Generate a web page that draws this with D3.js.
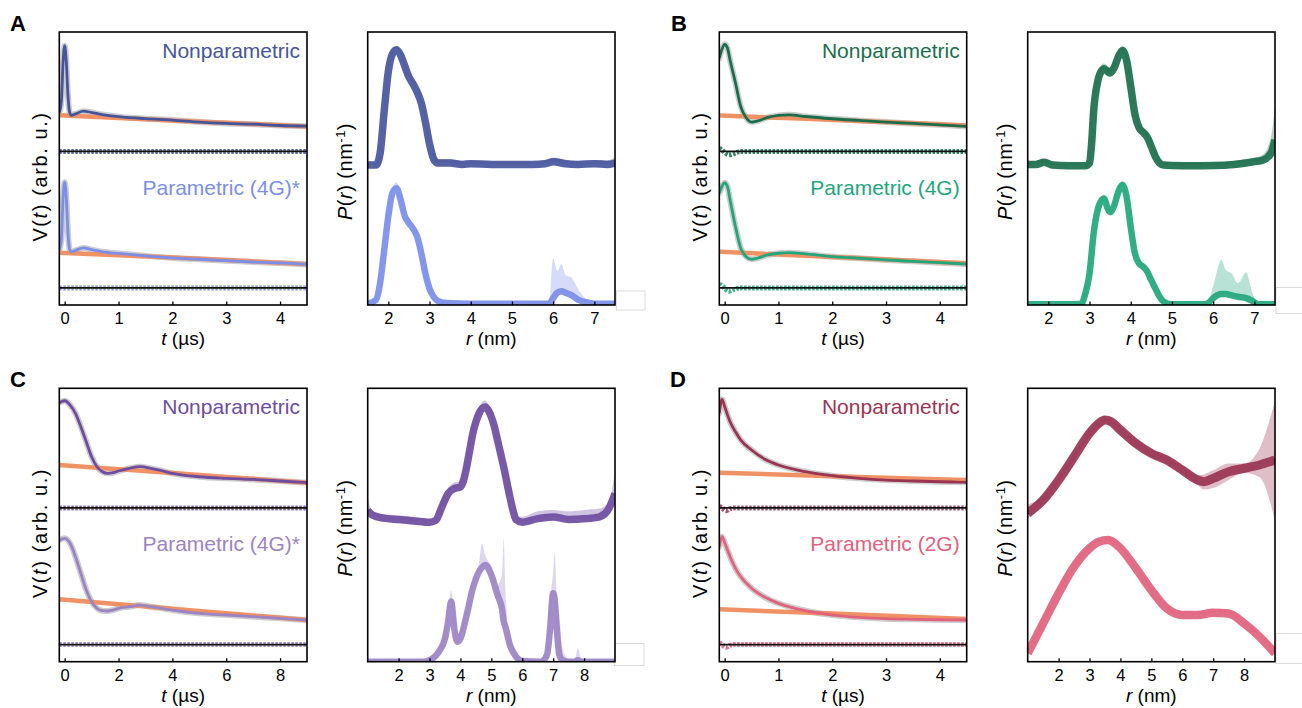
<!DOCTYPE html>
<html>
<head>
<meta charset="utf-8">
<script src="https://cdn.jsdelivr.net/npm/d3@7"></script>
<style>
  body { margin: 0; background: #fff; }
  svg { display: block; font-family: "Liberation Sans", Arial, Helvetica, sans-serif; }
</style>
</head>
<body>
<svg id="fig" width="1302" height="708"></svg>
<script>
// ---------------- tick labels ----------------
const tTicksShort = [0, 1, 2, 3, 4];
const tTicksLong = [0, 2, 4, 6, 8];
const rTicksAB = [2, 3, 4, 5, 6, 7];
const rTicksCD = [2, 3, 4, 5, 6, 7, 8];

// ---------------- series labels ----------------
const labelsA = ["Nonparametric", "Parametric (4G)*"];
const labelsB = ["Nonparametric", "Parametric (4G)"];
const labelsC = ["Nonparametric", "Parametric (4G)*"];
const labelsD = ["Nonparametric", "Parametric (2G)"];
const panelLetters = ["A", "B", "C", "D"];

// ---------------- V(t) traces (arb. u., relative to each residual baseline) ----------------
// A
const tA = [-0.1, -0.06, -0.03, 0, 0.03, 0.06, 0.09, 0.12, 0.2, 0.35, 0.5, 0.7, 1.0, 1.5, 2.0, 2.5, 3.0, 3.5, 4.0, 4.5];
const fitA_np = [0.57, 0.75, 1.31, 1.55, 1.31, 0.83, 0.58, 0.53, 0.55, 0.59, 0.57, 0.54, 0.51, 0.48, 0.46, 0.43, 0.41, 0.40, 0.38, 0.37];
const fitA_par = [0.556, 0.73, 1.32, 1.55, 1.32, 0.82, 0.57, 0.53, 0.55, 0.586, 0.56, 0.53, 0.505, 0.47, 0.44, 0.42, 0.40, 0.38, 0.366, 0.344];
const tBgA = [-0.1, 1, 2, 3, 4.5];
const bgA_np = [0.53, 0.49, 0.455, 0.42, 0.366];
const bgA_par = [0.517, 0.48, 0.445, 0.41, 0.347];
const tResA = [-0.1, 4.5];
const resA_np = [0, 0];
const resA_par = [0, 0];

// B
const tB = [-0.1, -0.05, 0, 0.05, 0.1, 0.2, 0.3, 0.4, 0.5, 0.6, 0.8, 1.0, 1.2, 1.5, 2, 2.5, 3, 3.5, 4, 4.5];
const fitB_np = [1.367, 1.50, 1.57, 1.52, 1.34, 1.006, 0.654, 0.493, 0.43, 0.445, 0.498, 0.527, 0.537, 0.512, 0.479, 0.454, 0.43, 0.41, 0.39, 0.366];
const fitB_par = [1.39, 1.49, 1.54, 1.49, 1.29, 0.90, 0.58, 0.458, 0.42, 0.435, 0.483, 0.508, 0.517, 0.498, 0.458, 0.435, 0.41, 0.39, 0.37, 0.35];
const tBgB = [-0.1, 1.5, 3, 4.5];
const bgB_np = [0.527, 0.478, 0.43, 0.38];
const bgB_par = [0.53, 0.473, 0.417, 0.36];
const tResB = [-0.1, -0.02, 0.08, 0.18, 0.3, 4.5];
const resB_np = [0.05, 0.0, -0.05, -0.03, 0, 0];
const resB_par = [0.06, 0.01, -0.05, -0.02, 0, 0];

// C
const tC = [-0.2, 0, 0.2, 0.4, 0.6, 0.8, 1.0, 1.2, 1.4, 1.6, 1.8, 2.0, 2.4, 2.8, 3.2, 3.6, 4, 5, 6, 7, 8, 9];
const fitC_np = [1.54, 1.568, 1.505, 1.384, 1.188, 0.969, 0.749, 0.603, 0.53, 0.506, 0.515, 0.54, 0.579, 0.603, 0.579, 0.544, 0.506, 0.456, 0.433, 0.418, 0.394, 0.369];
const fitC_par = [1.53, 1.555, 1.482, 1.286, 1.043, 0.799, 0.628, 0.531, 0.496, 0.492, 0.506, 0.531, 0.555, 0.579, 0.555, 0.531, 0.506, 0.458, 0.433, 0.409, 0.384, 0.36];
const tBgC = [-0.2, 2, 4, 6, 9];
const bgC_np = [0.628, 0.566, 0.51, 0.453, 0.369];
const bgC_par = [0.663, 0.591, 0.525, 0.46, 0.36];
const tResC = [-0.2, 9];
const resC_np = [0, 0];
const resC_par = [0, 0];

// D
const tD = [-0.1, -0.05, 0, 0.1, 0.2, 0.3, 0.5, 0.75, 1, 1.5, 2, 2.5, 3, 3.5, 4, 4.5];
const fitD_np = [1.388, 1.589, 1.48, 1.261, 1.115, 0.993, 0.847, 0.711, 0.628, 0.53, 0.471, 0.433, 0.408, 0.394, 0.383, 0.375];
const fitD_par = [1.432, 1.579, 1.491, 1.286, 1.116, 0.993, 0.824, 0.692, 0.604, 0.496, 0.433, 0.399, 0.379, 0.37, 0.364, 0.36];
const tBgD = [-0.1, 2, 4.5];
const bgD_np = [0.515, 0.464, 0.408];
const bgD_par = [0.516, 0.455, 0.375];
const tResD = [-0.1, -0.05, 0.03, 0.1, 0.2, 4.5];
const resD_np = [0.03, 0, -0.04, -0.01, 0, 0];
const resD_par = [0.03, 0, -0.04, -0.01, 0, 0];

// ---------------- P(r) distributions (nm^-1, arb. scaling) ----------------
// A
const rA_np = [1.5, 1.7, 1.8, 1.9, 2.0, 2.1, 2.2, 2.3, 2.4, 2.5, 2.6, 2.7, 2.8, 2.9, 3.0, 3.1, 3.2, 3.5, 3.8, 4.0, 4.5, 5.0, 5.5, 5.8, 6.0, 6.3, 6.6, 7.0, 7.3, 7.5];
const pA_np = [0.015, 0.015, 0.10, 0.41, 0.70, 0.83, 0.86, 0.82, 0.74, 0.66, 0.61, 0.55, 0.47, 0.33, 0.17, 0.06, 0.03, 0.03, 0.02, 0.025, 0.02, 0.02, 0.02, 0.025, 0.04, 0.025, 0.02, 0.025, 0.02, 0.03];
const hiA_np = [0.03, 0.03, 0.14, 0.45, 0.74, 0.86, 0.89, 0.85, 0.77, 0.69, 0.64, 0.58, 0.50, 0.37, 0.21, 0.09, 0.06, 0.06, 0.04, 0.045, 0.04, 0.04, 0.04, 0.045, 0.07, 0.05, 0.04, 0.05, 0.05, 0.07];
const rA_par = [1.5, 1.7, 1.8, 1.9, 2.0, 2.1, 2.2, 2.3, 2.4, 2.5, 2.6, 2.7, 2.8, 2.9, 3.0, 3.1, 3.2, 3.4, 4.0, 5.0, 5.9, 6.0, 6.1, 6.2, 6.3, 6.45, 6.6, 6.8, 7.0, 7.5];
const pA_par = [0.01, 0.037, 0.16, 0.40, 0.65, 0.82, 0.855, 0.77, 0.65, 0.60, 0.56, 0.50, 0.38, 0.23, 0.12, 0.06, 0.03, 0.015, 0.01, 0.01, 0.01, 0.05, 0.09, 0.10, 0.09, 0.07, 0.04, 0.02, 0.01, 0.01];
const hiA_par = [0.02, 0.05, 0.19, 0.44, 0.69, 0.86, 0.90, 0.82, 0.69, 0.64, 0.60, 0.54, 0.42, 0.27, 0.15, 0.08, 0.04, 0.02, 0.015, 0.015, 0.03, 0.34, 0.25, 0.30, 0.22, 0.20, 0.12, 0.04, 0.015, 0.015];

// B
const rB_np = [1.5, 1.7, 1.9, 2.1, 2.5, 2.9, 3.0, 3.05, 3.1, 3.2, 3.3, 3.35, 3.4, 3.5, 3.6, 3.7, 3.8, 3.9, 4.0, 4.1, 4.2, 4.3, 4.4, 4.5, 4.6, 4.7, 4.8, 5.0, 5.5, 6.0, 6.5, 6.8, 7.0, 7.2, 7.4, 7.5];
const pB_np = [0.02, 0.02, 0.035, 0.015, 0.01, 0.01, 0.03, 0.17, 0.41, 0.63, 0.71, 0.72, 0.71, 0.69, 0.73, 0.81, 0.855, 0.78, 0.59, 0.39, 0.29, 0.255, 0.22, 0.15, 0.075, 0.03, 0.015, 0.012, 0.01, 0.012, 0.02, 0.03, 0.04, 0.05, 0.10, 0.20];
const hiB_np = [0.05, 0.04, 0.06, 0.03, 0.02, 0.02, 0.06, 0.21, 0.45, 0.67, 0.75, 0.76, 0.75, 0.73, 0.77, 0.85, 0.89, 0.82, 0.63, 0.43, 0.33, 0.29, 0.26, 0.19, 0.11, 0.06, 0.04, 0.035, 0.03, 0.035, 0.045, 0.06, 0.07, 0.09, 0.22, 0.45];
const rB_par = [1.5, 2.5, 2.8, 2.9, 3.0, 3.1, 3.2, 3.3, 3.35, 3.45, 3.5, 3.6, 3.7, 3.8, 3.9, 4.0, 4.1, 4.2, 4.3, 4.4, 4.5, 4.6, 4.7, 4.8, 5.0, 5.8, 5.9, 6.0, 6.2, 6.3, 6.45, 6.6, 6.8, 6.95, 7.1, 7.5];
const pB_par = [0.005, 0.005, 0.01, 0.086, 0.23, 0.525, 0.70, 0.77, 0.78, 0.70, 0.68, 0.73, 0.83, 0.88, 0.79, 0.57, 0.38, 0.305, 0.28, 0.245, 0.18, 0.12, 0.06, 0.025, 0.005, 0.005, 0.02, 0.05, 0.08, 0.08, 0.07, 0.06, 0.05, 0.03, 0.005, 0.005];
const hiB_par = [0.01, 0.01, 0.02, 0.11, 0.26, 0.56, 0.73, 0.80, 0.81, 0.73, 0.71, 0.76, 0.86, 0.91, 0.82, 0.60, 0.41, 0.335, 0.31, 0.275, 0.21, 0.15, 0.085, 0.045, 0.01, 0.01, 0.04, 0.14, 0.33, 0.26, 0.23, 0.16, 0.24, 0.09, 0.01, 0.01];

// C
const rC_np = [1.0, 1.1, 1.3, 1.5, 2.0, 2.5, 3.0, 3.2, 3.4, 3.6, 3.8, 4.0, 4.1, 4.2, 4.3, 4.4, 4.5, 4.6, 4.7, 4.8, 4.9, 5.0, 5.1, 5.2, 5.3, 5.4, 5.5, 5.6, 5.7, 5.8, 6.0, 6.5, 7.0, 7.5, 8.0, 8.5, 8.8, 9.0];
const pC_np = [0.10, 0.07, 0.05, 0.04, 0.03, 0.02, 0.01, 0.024, 0.122, 0.22, 0.256, 0.268, 0.317, 0.414, 0.537, 0.659, 0.744, 0.805, 0.842, 0.854, 0.829, 0.78, 0.707, 0.61, 0.512, 0.414, 0.305, 0.195, 0.097, 0.029, 0.01, 0.037, 0.049, 0.03, 0.035, 0.05, 0.11, 0.22];
const hiC_np = [0.20, 0.11, 0.08, 0.07, 0.06, 0.05, 0.03, 0.05, 0.16, 0.26, 0.30, 0.31, 0.36, 0.46, 0.58, 0.70, 0.79, 0.85, 0.89, 0.90, 0.875, 0.825, 0.75, 0.655, 0.555, 0.455, 0.345, 0.235, 0.135, 0.06, 0.05, 0.09, 0.10, 0.09, 0.10, 0.11, 0.16, 0.38];
const rC_par = [1.0, 2.8, 3.0, 3.3, 3.5, 3.6, 3.7, 3.8, 3.9, 4.0, 4.2, 4.4, 4.6, 4.7, 4.8, 5.0, 5.2, 5.35, 5.4, 5.45, 5.6, 5.8, 6.0, 6.6, 6.8, 6.9, 7.0, 7.05, 7.1, 7.2, 7.3, 7.5, 7.7, 7.8, 7.9, 8.0, 9.0];
const pC_par = [0.0, 0.0, 0.01, 0.073, 0.17, 0.29, 0.44, 0.244, 0.146, 0.17, 0.34, 0.536, 0.658, 0.69, 0.707, 0.634, 0.488, 0.38, 0.293, 0.26, 0.122, 0.037, 0.005, 0.0, 0.05, 0.24, 0.50, 0.45, 0.29, 0.05, 0.01, 0.0, 0.0, 0.01, 0.0, 0.0, 0.0];
const hiC_par = [0.01, 0.01, 0.03, 0.10, 0.21, 0.36, 0.52, 0.33, 0.19, 0.22, 0.40, 0.60, 0.72, 0.865, 0.78, 0.70, 0.56, 0.65, 0.90, 0.55, 0.17, 0.07, 0.02, 0.01, 0.08, 0.45, 0.66, 0.80, 0.55, 0.34, 0.10, 0.02, 0.02, 0.10, 0.02, 0.01, 0.01];

// D
const rD_np = [1.0, 1.5, 2.0, 2.5, 3.0, 3.3, 3.5, 3.7, 4.0, 4.5, 5.0, 5.5, 6.0, 6.5, 6.7, 7.0, 7.5, 8.0, 8.5, 9.0];
const pD_np = [0.075, 0.173, 0.319, 0.489, 0.661, 0.734, 0.758, 0.745, 0.685, 0.587, 0.514, 0.465, 0.392, 0.319, 0.307, 0.331, 0.38, 0.405, 0.429, 0.465];
const loD_np = [0.04, 0.15, 0.295, 0.465, 0.64, 0.71, 0.735, 0.72, 0.66, 0.565, 0.49, 0.44, 0.365, 0.28, 0.25, 0.26, 0.32, 0.37, 0.34, 0.02];
const hiD_np = [0.14, 0.20, 0.345, 0.515, 0.685, 0.76, 0.785, 0.77, 0.71, 0.61, 0.54, 0.49, 0.42, 0.355, 0.36, 0.39, 0.44, 0.44, 0.55, 0.90];
const rD_par = [1.0, 1.5, 2.0, 2.5, 3.0, 3.3, 3.6, 4.0, 4.5, 5.0, 5.5, 6.0, 6.5, 7.0, 7.5, 8.0, 8.5, 9.0];
const pD_par = [0.061, 0.281, 0.5, 0.695, 0.83, 0.878, 0.89, 0.83, 0.683, 0.524, 0.39, 0.342, 0.342, 0.358, 0.353, 0.28, 0.183, 0.061];
const hiD_par = [0.08, 0.30, 0.52, 0.715, 0.85, 0.898, 0.91, 0.85, 0.703, 0.544, 0.41, 0.362, 0.365, 0.385, 0.378, 0.30, 0.203, 0.08];

// ---------------- colours ----------------
const colA = ["#46559b", "#7b8ee8"];
const colB = ["#1b6e4c", "#22a67b"];
const colC = ["#6e4c9f", "#9b84c4"];
const colD = ["#9a3453", "#e1627d"];
const bgColor = "#f08c5e";
const dataColor = "#cdcdcd";

// ---------------- layout ----------------
const rowsY = [[32, 305], [388.3, 661.7]];
const vCols = [[59.3, 307], [719.3, 966.7]];
const pCols = [[367.7, 615], [1027.7, 1275]];

const svg = d3.select("#fig");
const FONT = '"Liberation Sans", Arial, Helvetica, sans-serif';
let clipId = 0;

function zip(a, b) { return a.map((v, i) => [v, b[i]]); }

function makeClip(g, bx) {
  const id = "clip" + (clipId++);
  g.append("clipPath").attr("id", id).append("rect")
    .attr("x", bx[0]).attr("y", bx[2]).attr("width", bx[1] - bx[0]).attr("height", bx[3] - bx[2]);
  return id;
}

function bottomAxis(g, x, ticks, yPos) {
  const ax = d3.axisBottom(x).tickValues(ticks).tickSizeInner(-3.5).tickSizeOuter(0).tickPadding(7.3)
    .tickFormat(d3.format("d"));
  const a = g.append("g").attr("transform", `translate(0,${yPos})`).call(ax);
  a.attr("font-family", null).attr("font-size", null);
  a.select(".domain").remove();
  a.selectAll(".tick line").attr("stroke", "#000").attr("stroke-width", 1.3);
  a.selectAll(".tick text").attr("fill", "#000").style("font-size", "16.5px").style("font-family", FONT);
}

function drawFrame(g, bx) {
  g.append("rect").attr("x", bx[0]).attr("y", bx[2]).attr("width", bx[1] - bx[0]).attr("height", bx[3] - bx[2])
    .attr("fill", "none").attr("stroke", "#000").attr("stroke-width", 1.6);
}

// V(t) panel: two stacked traces (upper offset 2, lower offset 0)
function drawV(cfg) {
  const [x0, x1] = cfg.xs, [y0, y1] = cfg.ys;
  const g = svg.append("g");
  const x = d3.scaleLinear().domain(cfg.tDomain).range([x0, x1]);
  const y = d3.scaleLinear().domain([-0.25, 3.75]).range([y1, y0]);
  const cid = makeClip(g, [x0, x1, y0, y1]);
  const plot = g.append("g").attr("clip-path", `url(#${cid})`);
  const offsets = [2, 0];
  cfg.traces.forEach((tr, i) => {
    const off = offsets[i];
    const line = d3.line().x(d => x(d[0])).y(d => y(d[1] + off)).curve(d3.curveMonotoneX);
    // experimental signal
    plot.append("path").attr("d", line(zip(tr.t, tr.fit))).attr("fill", "none")
      .attr("stroke", dataColor).attr("stroke-width", 6).attr("stroke-linecap", "round");
    // background
    plot.append("path").attr("d", line(zip(tr.tBg, tr.bg))).attr("fill", "none")
      .attr("stroke", bgColor).attr("stroke-width", 4.5).attr("opacity", 0.95);
    // fit
    plot.append("path").attr("d", line(zip(tr.t, tr.fit))).attr("fill", "none")
      .attr("stroke", tr.color).attr("stroke-width", 2.8);
    // residuals
    plot.append("path").attr("d", line(zip(tr.tRes, tr.res))).attr("fill", "none")
      .attr("stroke", tr.color).attr("stroke-width", 5).attr("stroke-dasharray", "2.5 1.5").attr("opacity", 0.85);
    plot.append("line").attr("x1", x0).attr("x2", x1).attr("y1", y(off)).attr("y2", y(off))
      .attr("stroke", "#111").attr("stroke-width", 1.8);
    // label
    g.append("text").attr("x", x1 - 7).attr("y", y0 + (i === 0 ? 26 : 163))
      .attr("text-anchor", "end").attr("fill", tr.color).style("font-size", "21px").text(tr.label);
  });
  bottomAxis(g, x, cfg.ticks, y1);
  drawFrame(g, [x0, x1, y0, y1]);
  // axis titles
  const xl = g.append("text").attr("x", (x0 + x1) / 2).attr("y", y1 + 40).attr("text-anchor", "middle")
    .style("font-size", "19px");
  xl.append("tspan").attr("font-style", "italic").text("t");
  xl.append("tspan").text(" (\u00b5s)");
  const yl = g.append("text").attr("transform", `translate(${x0 - 12},${(y0 + y1) / 2 + 8}) rotate(-90)`)
    .attr("text-anchor", "middle").style("font-size", "20px").style("letter-spacing", "1.6px");
  yl.append("tspan").text("V(");
  yl.append("tspan").attr("font-style", "italic").text("t");
  yl.append("tspan").text(") (arb. u.)");
}

// P(r) panel: two stacked distributions (upper offset 1.01, lower offset 0)
function drawP(cfg) {
  const [x0, x1] = cfg.xs, [y0, y1] = cfg.ys;
  const g = svg.append("g");
  const x = d3.scaleLinear().domain(cfg.rDomain).range([x0, x1]);
  const y = d3.scaleLinear().domain([0, 2]).range([y1, y0]);
  const cid = makeClip(g, [x0, x1, y0, y1]);
  const plot = g.append("g").attr("clip-path", `url(#${cid})`);
  const offsets = [1.01, 0];
  cfg.dists.forEach((ds, i) => {
    const off = offsets[i];
    const lo = ds.lo || ds.p;
    const area = d3.area().x(d => x(d[0])).y0(d => y(d[1] + off)).y1(d => y(d[2] + off)).curve(d3.curveMonotoneX);
    const line = d3.line().x(d => x(d[0])).y(d => y(d[1] + off)).curve(d3.curveMonotoneX);
    plot.append("path").attr("d", area(ds.r.map((r, k) => [r, lo[k], ds.hi[k]])))
      .attr("fill", ds.color).attr("opacity", 0.32);
    plot.append("path").attr("d", line(zip(ds.r, ds.p))).attr("fill", "none")
      .attr("stroke", ds.color).attr("stroke-width", ds.w).attr("stroke-linejoin", "round").attr("opacity", 0.92);
  });
  bottomAxis(g, x, cfg.ticks, y1);
  drawFrame(g, [x0, x1, y0, y1]);
  const xl = g.append("text").attr("x", (x0 + x1) / 2).attr("y", y1 + 40).attr("text-anchor", "middle")
    .style("font-size", "19px");
  xl.append("tspan").attr("font-style", "italic").text("r");
  xl.append("tspan").text(" (nm)");
  const yl = g.append("text").attr("transform", `translate(${x0 - 15.5},${(y0 + y1) / 2 + 3}) rotate(-90)`)
    .attr("text-anchor", "middle").style("font-size", "20px").style("letter-spacing", "0.5px");
  yl.append("tspan").attr("font-style", "italic").text("P");
  yl.append("tspan").text("(");
  yl.append("tspan").attr("font-style", "italic").text("r");
  yl.append("tspan").text(") (nm");
  yl.append("tspan").attr("dy", -7).style("font-size", "13px").text("-1");
  yl.append("tspan").attr("dy", 7).text(")");
}

// ---------------- panels ----------------
const vPanels = [
  { xs: vCols[0], ys: rowsY[0], tDomain: [-0.1, 4.5], ticks: tTicksShort, traces: [
    { t: tA, fit: fitA_np, tBg: tBgA, bg: bgA_np, tRes: tResA, res: resA_np, color: colA[0], label: labelsA[0] },
    { t: tA, fit: fitA_par, tBg: tBgA, bg: bgA_par, tRes: tResA, res: resA_par, color: colA[1], label: labelsA[1] } ] },
  { xs: vCols[1], ys: rowsY[0], tDomain: [-0.1, 4.5], ticks: tTicksShort, traces: [
    { t: tB, fit: fitB_np, tBg: tBgB, bg: bgB_np, tRes: tResB, res: resB_np, color: colB[0], label: labelsB[0] },
    { t: tB, fit: fitB_par, tBg: tBgB, bg: bgB_par, tRes: tResB, res: resB_par, color: colB[1], label: labelsB[1] } ] },
  { xs: vCols[0], ys: rowsY[1], tDomain: [-0.2, 9], ticks: tTicksLong, traces: [
    { t: tC, fit: fitC_np, tBg: tBgC, bg: bgC_np, tRes: tResC, res: resC_np, color: colC[0], label: labelsC[0] },
    { t: tC, fit: fitC_par, tBg: tBgC, bg: bgC_par, tRes: tResC, res: resC_par, color: colC[1], label: labelsC[1] } ] },
  { xs: vCols[1], ys: rowsY[1], tDomain: [-0.1, 4.5], ticks: tTicksShort, traces: [
    { t: tD, fit: fitD_np, tBg: tBgD, bg: bgD_np, tRes: tResD, res: resD_np, color: colD[0], label: labelsD[0] },
    { t: tD, fit: fitD_par, tBg: tBgD, bg: bgD_par, tRes: tResD, res: resD_par, color: colD[1], label: labelsD[1] } ] }
];
const pPanels = [
  { xs: pCols[0], ys: rowsY[0], rDomain: [1.5, 7.5], ticks: rTicksAB, dists: [
    { r: rA_np, p: pA_np, hi: hiA_np, color: colA[0], w: 7.5 },
    { r: rA_par, p: pA_par, hi: hiA_par, color: colA[1], w: 6.5 } ] },
  { xs: pCols[1], ys: rowsY[0], rDomain: [1.5, 7.5], ticks: rTicksAB, dists: [
    { r: rB_np, p: pB_np, hi: hiB_np, color: colB[0], w: 7.5 },
    { r: rB_par, p: pB_par, hi: hiB_par, color: colB[1], w: 6.5 } ] },
  { xs: pCols[0], ys: rowsY[1], rDomain: [1, 9], ticks: rTicksCD, dists: [
    { r: rC_np, p: pC_np, hi: hiC_np, color: colC[0], w: 7.5 },
    { r: rC_par, p: pC_par, hi: hiC_par, color: colC[1], w: 6.5 } ] },
  { xs: pCols[1], ys: rowsY[1], rDomain: [1, 9], ticks: rTicksCD, dists: [
    { r: rD_np, p: pD_np, lo: loD_np, hi: hiD_np, color: colD[0], w: 9 },
    { r: rD_par, p: pD_par, hi: hiD_par, color: colD[1], w: 8.5 } ] }
];

// faint boxes beside the distribution panels
[[616.5, 291, 28.5, 19], [1276, 287.5, 40, 26], [614.5, 643.5, 29.5, 22], [1276, 633.5, 40, 30]].forEach(b => {
  svg.append("rect").attr("x", b[0]).attr("y", b[1]).attr("width", b[2]).attr("height", b[3])
    .attr("fill", "#fff").attr("stroke", "#dcdcdc").attr("stroke-width", 1);
});

vPanels.forEach(drawV);
pPanels.forEach(drawP);

// panel letters
const letterPos = [[10, 31], [671, 31], [10, 387], [670, 387]];
panelLetters.forEach((L, i) => {
  svg.append("text").attr("x", letterPos[i][0]).attr("y", letterPos[i][1])
    .style("font-size", "22px").style("font-weight", "bold").text(L);
});
</script>
</body>
</html>
